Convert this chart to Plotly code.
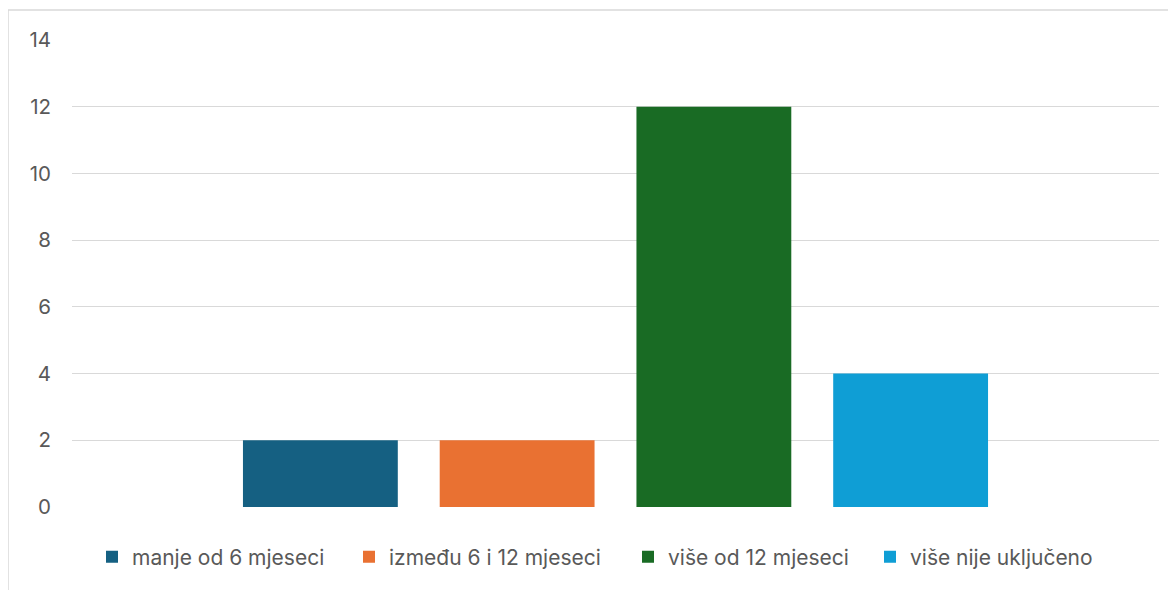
import plotly.graph_objects as go

series = ["manje od 6 mjeseci", "između 6 i 12 mjeseci", "više od 12 mjeseci", "više nije uključeno"]
values = [2, 2, 12, 4]
colors = ["#156082", "#E97132", "#196B24", "#0F9ED5"]
category = ["Ukupno"]
y_ticks = [0, 2, 4, 6, 8, 10, 12, 14]

# page has an 8px body margin, so figure coords = screen coords - 8
W, H = 1176, 590
ml, mr, mt, mb = 64, 25, 32, 91
pw, ph = W - ml - mr, H - mt - mb

legend_left_px = [107, 364, 643, 885]  # screen x of each legend square
legend_ids = ["legend", "legend2", "legend3", "legend4"]

fig = go.Figure()
for name, v, c, lid in zip(series, values, colors, legend_ids):
    fig.add_trace(go.Bar(x=category, y=[v], name=name, legend=lid, showlegend=True,
                         marker=dict(color=c, line=dict(width=0))))

legend_y = (ph + mt - 549) / ph
legends = {}
for lid, sx in zip(legend_ids, legend_left_px):
    origin = sx - 8 - 15
    legends[lid] = dict(orientation="h", x=(origin - ml) / pw, xanchor="left", y=legend_y,
                        yanchor="middle", font=dict(size=21, color="#595959"), itemwidth=30,
                        bgcolor="rgba(0,0,0,0)")

fig.update_layout(
    width=W, height=H,
    margin=dict(l=ml, r=mr, t=mt, b=mb),
    paper_bgcolor="white", plot_bgcolor="white",
    showlegend=True,
    barmode="group", bargap=0.276, bargroupgap=0.213,
    font=dict(family="Inter, Noto Sans, sans-serif", size=20, color="#595959"),
    xaxis=dict(showticklabels=False, showgrid=False, zeroline=False, showline=False, ticks=""),
    yaxis=dict(range=[0, 14], tickvals=y_ticks, showgrid=True, gridcolor="#d9d9d9", gridwidth=1.3,
               zeroline=False, showline=False, ticks="", ticklabelstandoff=20,
               tickfont=dict(size=20.5, color="#595959")),
    shapes=[dict(type="rect", xref="paper", yref="paper",
                 x0=(0 - ml) / pw, x1=(1185 - ml) / pw,
                 y0=(mt + ph - 600) / ph, y1=(mt + ph - 2) / ph,
                 line=dict(color="#d9d9d9", width=1.5), fillcolor="rgba(0,0,0,0)", layer="below")],
    **legends,
)
fig.write_html("out.html")
